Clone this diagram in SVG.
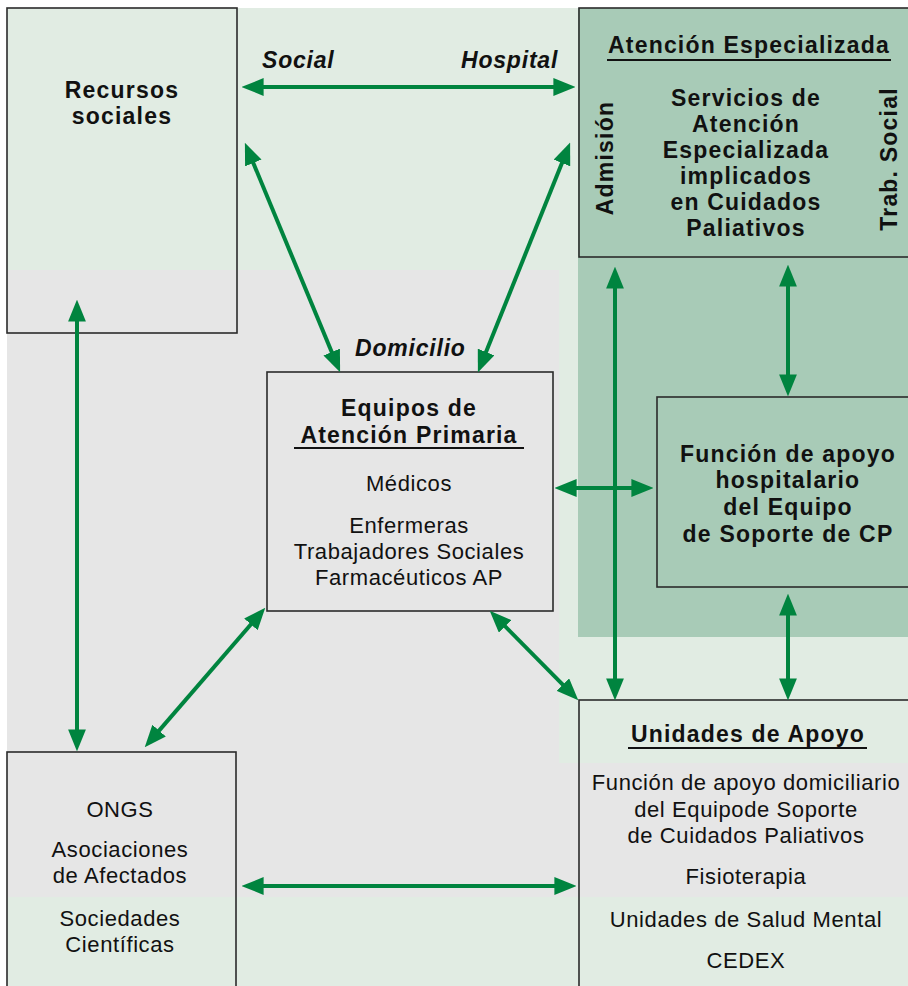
<svg xmlns="http://www.w3.org/2000/svg" width="908" height="986" viewBox="0 0 908 986">
<style>
.box{fill:none;stroke:#2b2b2b;stroke-width:1.6}
.b{font-family:"Liberation Sans",Arial,sans-serif;font-weight:bold;font-size:23px;letter-spacing:1.2px;fill:#111;text-anchor:middle}
.r{font-family:"Liberation Sans",Arial,sans-serif;font-size:22px;letter-spacing:0.6px;fill:#111;text-anchor:middle}
.i{font-family:"Liberation Sans",Arial,sans-serif;font-weight:bold;font-style:italic;font-size:23px;letter-spacing:0.8px;fill:#111}
.ul{stroke:#111;stroke-width:2}
.c{stroke:#00843f;stroke-width:4;fill:none;marker-start:url(#ah);marker-end:url(#ah)}
</style>
<defs>
<marker id="ah" markerUnits="userSpaceOnUse" markerWidth="22" markerHeight="18" refX="13" refY="8.5" orient="auto-start-reverse" viewBox="0 0 21 17">
<path d="M0,0 L21,8.5 L0,17 z" fill="#00843f"/>
</marker>
</defs>
<g id="background">
<rect x="7" y="8" width="901" height="978" fill="#e1ece3"/>
<rect x="7" y="270" width="552" height="627" fill="#e6e6e6"/>
<rect x="559" y="763" width="349" height="134" fill="#e6e6e6"/>
<rect x="578" y="8" width="330" height="629" fill="#a8cbb7"/>
</g>
<g id="recursos">
<rect class="box" x="7" y="8" width="230" height="325"/>
<text class="b" x="122" y="98">Recursos</text>
<text class="b" x="122" y="124">sociales</text>
</g>
<g id="atencion-especializada">
<rect class="box" x="579" y="8" width="340" height="249"/>
<text class="b" x="749" y="53">Atención Especializada</text>
<line class="ul" x1="607" y1="60" x2="891" y2="60"/>
<text class="b" x="746" y="106">Servicios de</text>
<text class="b" x="746" y="132">Atención</text>
<text class="b" x="746" y="158">Especializada</text>
<text class="b" x="746" y="184">implicados</text>
<text class="b" x="746" y="210">en Cuidados</text>
<text class="b" x="746" y="236">Paliativos</text>
<text class="b" transform="translate(613,158) rotate(-90)" x="0" y="0">Admisión</text>
<text class="b" transform="translate(897,159) rotate(-90)" x="0" y="0">Trab. Social</text>
</g>
<g id="equipos-ap">
<rect class="box" x="267" y="372" width="286" height="239"/>
<text class="b" x="409" y="416">Equipos de</text>
<text class="b" x="409" y="443">Atención Primaria</text>
<line class="ul" x1="294" y1="448" x2="524" y2="448"/>
<text class="r" x="409" y="491">Médicos</text>
<text class="r" x="409" y="533">Enfermeras</text>
<text class="r" x="409" y="559">Trabajadores Sociales</text>
<text class="r" x="409" y="585">Farmacéuticos AP</text>
</g>
<g id="funcion-hospitalaria">
<rect class="box" x="657" y="397" width="260" height="190"/>
<text class="b" x="788" y="462">Función de apoyo</text>
<text class="b" x="788" y="488">hospitalario</text>
<text class="b" x="788" y="515">del Equipo</text>
<text class="b" x="788" y="542">de Soporte de CP</text>
</g>
<g id="ongs">
<rect class="box" x="7" y="752" width="229" height="250"/>
<text class="r" x="120" y="817">ONGS</text>
<text class="r" x="120" y="857">Asociaciones</text>
<text class="r" x="120" y="883">de Afectados</text>
<text class="r" x="120" y="926">Sociedades</text>
<text class="r" x="120" y="952">Científicas</text>
</g>
<g id="unidades-apoyo">
<rect class="box" x="579" y="700" width="340" height="300"/>
<text class="b" x="748" y="742">Unidades de Apoyo</text>
<line class="ul" x1="628" y1="748" x2="867" y2="748"/>
<text class="r" x="746" y="790">Función de apoyo domiciliario</text>
<text class="r" x="746" y="817">del Equipode Soporte</text>
<text class="r" x="746" y="843">de Cuidados Paliativos</text>
<text class="r" x="746" y="884">Fisioterapia</text>
<text class="r" x="746" y="927">Unidades de Salud Mental</text>
<text class="r" x="746" y="968">CEDEX</text>
</g>
<g id="labels">
<text class="i" x="262" y="68">Social</text>
<text class="i" x="461" y="68">Hospital</text>
<text class="i" x="355" y="356">Domicilio</text>
</g>
<g id="connectors">
<line class="c" x1="250" y1="87" x2="567" y2="87"/>
<line class="c" x1="248.1" y1="150.4" x2="336.9" y2="364.6"/>
<line class="c" x1="567" y1="150.4" x2="481" y2="364.6"/>
<line class="c" x1="77" y1="308" x2="77" y2="743"/>
<line class="c" x1="259.8" y1="614.1" x2="150.2" y2="740.9"/>
<line class="c" x1="495.6" y1="616.7" x2="572.4" y2="694.3"/>
<line class="c" x1="563" y1="488" x2="645" y2="488"/>
<line class="c" x1="615" y1="275" x2="615" y2="692"/>
<line class="c" x1="788" y1="273" x2="788" y2="388"/>
<line class="c" x1="788" y1="602" x2="788" y2="692"/>
<line class="c" x1="250" y1="886" x2="568" y2="886"/>
</g>
</svg>
